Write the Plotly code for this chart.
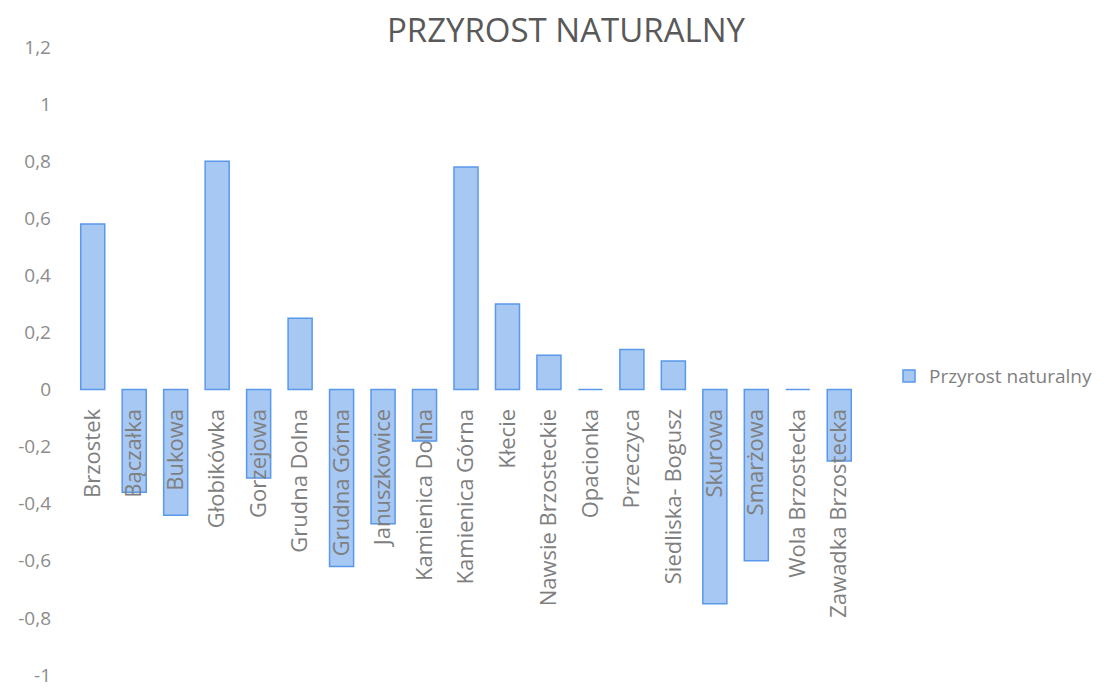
import plotly.graph_objects as go

categories = ["Brzostek", "Bączałka", "Bukowa", "Głobikówka", "Gorzejowa", "Grudna Dolna",
              "Grudna Górna", "Januszkowice", "Kamienica Dolna", "Kamienica Górna", "Kłecie",
              "Nawsie Brzosteckie", "Opacionka", "Przeczyca", "Siedliska- Bogusz", "Skurowa",
              "Smarżowa", "Wola Brzostecka", "Zawadka Brzostecka"]
values = [0.58, -0.36, -0.44, 0.80, -0.31, 0.25, -0.62, -0.47, -0.18, 0.78, 0.30,
          0.12, 0.0, 0.14, 0.10, -0.75, -0.60, 0.0, -0.25]
y_ticks = [-1, -0.8, -0.6, -0.4, -0.2, 0, 0.2, 0.4, 0.6, 0.8, 1, 1.2]
y_range = [-1, 1.2]

fig = go.Figure()
fig.add_trace(go.Bar(
    x=categories, y=values, name="Przyrost naturalny",
    marker=dict(color="#a6c8f3", line=dict(color="#5a98ea", width=1.5)),
    showlegend=True,
))

zero_pos = (0 - y_range[0]) / (y_range[1] - y_range[0])

fig.update_layout(
    width=1105, height=689,
    margin=dict(l=72, r=245, t=47, b=14, autoexpand=False),
    paper_bgcolor="white", plot_bgcolor="white",
    separators=", ",
    font=dict(family="Open Sans", color="#7f7f7f"),
    title=dict(text="PRZYROST NATURALNY", x=566 / 1105, xref="container",
               xanchor="center", y=1 - 30 / 689, yref="container", yanchor="middle",
               font=dict(size=33, color="#595959", family="Open Sans")),
    bargap=0.42,
    xaxis=dict(anchor="free", position=zero_pos, tickangle=-90, showgrid=False,
               showline=False, ticks="", automargin=False, ticklabelstandoff=14,
               tickfont=dict(size=22, color="#7f7f7f")),
    yaxis=dict(range=y_range, tickvals=y_ticks, showgrid=False, automargin=False,
               zeroline=False, showline=False, ticks="", ticklabelstandoff=20,
               tickfont=dict(size=19, color="#8c8c8c")),
    legend=dict(x=889 / 1105, xref="container", y=0.476, xanchor="left", yanchor="middle",
                font=dict(size=19, color="#7f7f7f")),
)
fig.update_yaxes(ticktext=[("%g" % v).replace(".", ",") for v in y_ticks])
fig.write_html("out.html", config={"displayModeBar": False},
               post_script="document.body.style.margin='0';")
